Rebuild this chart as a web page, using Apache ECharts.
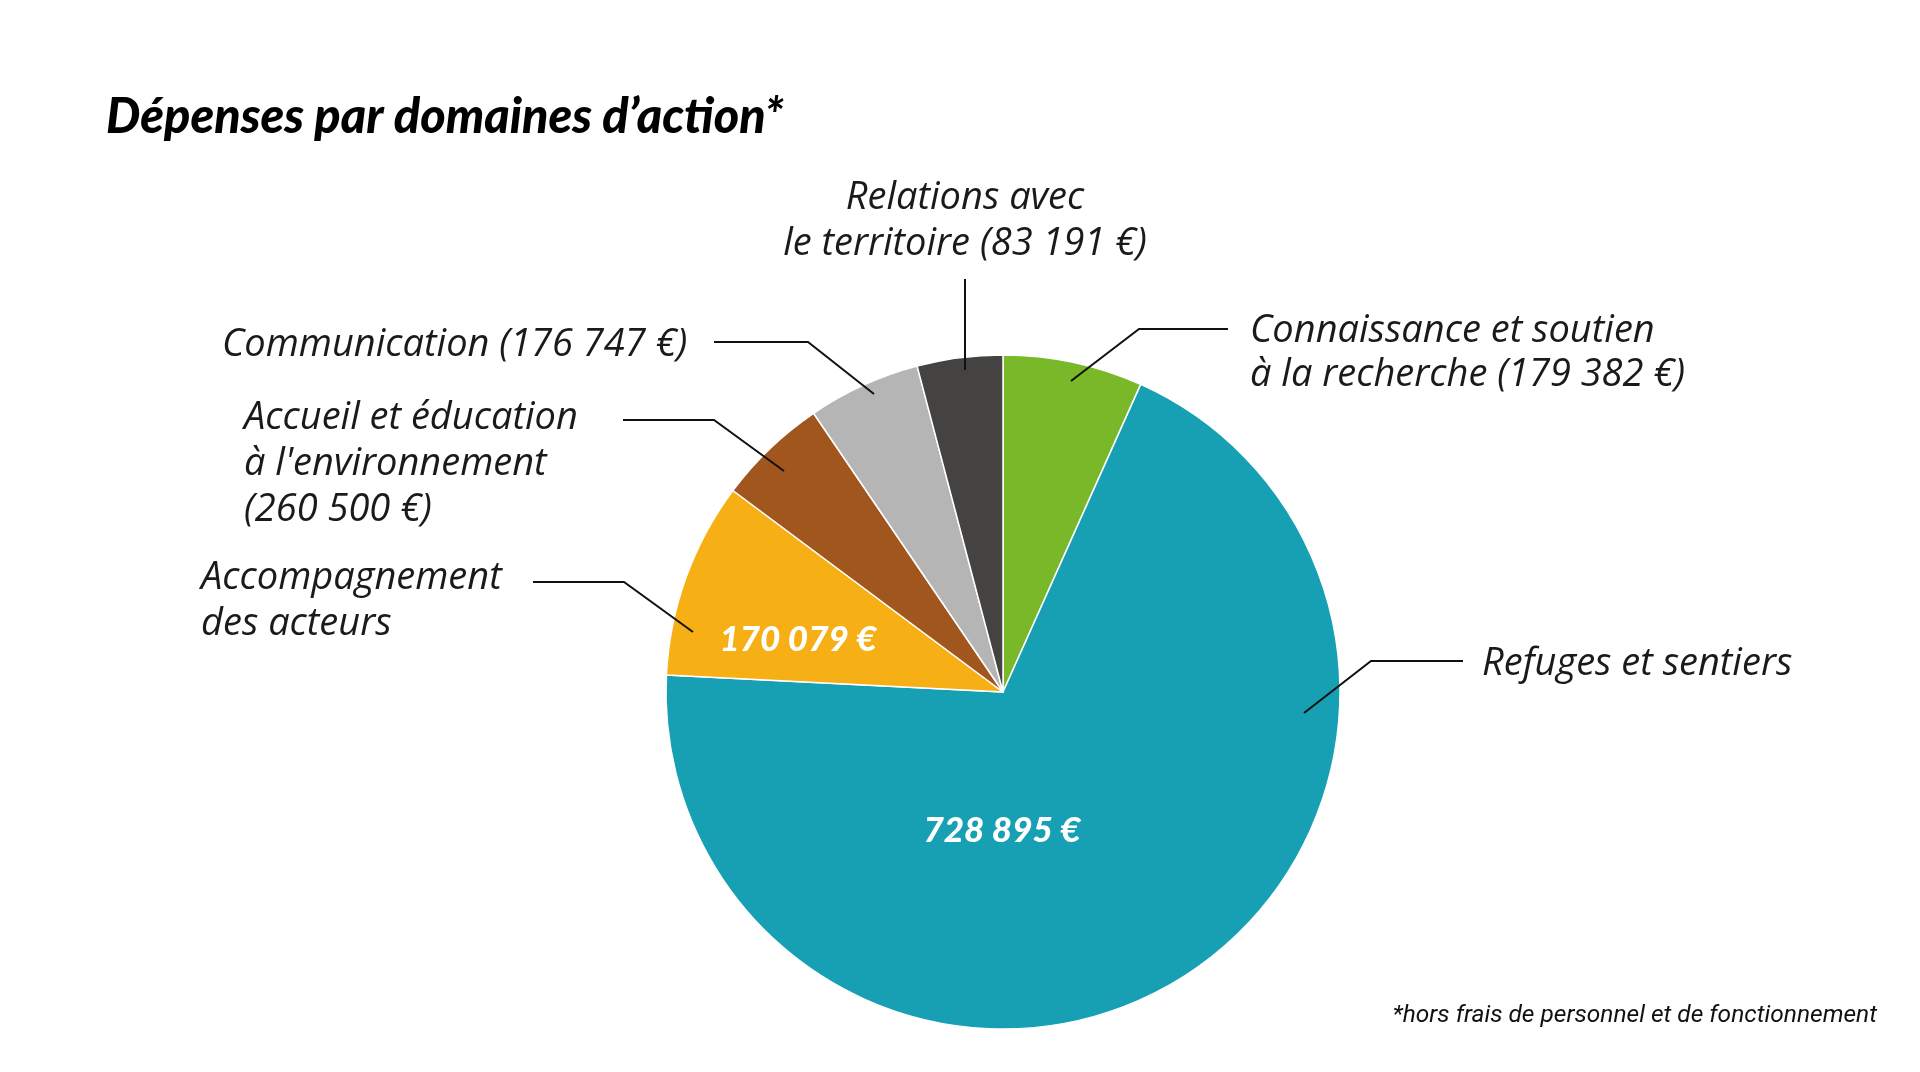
<!DOCTYPE html>
<html>
<head>
<meta charset="utf-8">
<script src="https://cdn.jsdelivr.net/npm/echarts@6/dist/echarts.min.js"></script>
<style>html,body{margin:0;padding:0;background:#fff}#c{width:1920px;height:1072px}</style>
</head>
<body>
<div id="c"></div>
<script>
// Categories, clockwise from 12 o'clock
const categories = [
  'Connaissance et soutien à la recherche',
  'Refuges et sentiers',
  'Accompagnement des acteurs',
  "Accueil et éducation à l'environnement",
  'Communication',
  'Relations avec le territoire'
];
// Amounts printed on the chart (€)
const amounts = [179382, 728895, 170079, 260500, 176747, 83191];
const shares = [6.7, 69.1, 9.4, 5.3, 5.4, 4.1];
const colors = ['#79b829', '#17a0b4', '#f6b015', '#a0561c', '#b5b5b5', '#444342'];

const fmt = v => String(v).replace(/\B(?=(\d{3})+(?!\d))/g, ' ') + ' €';
const outsideLabels = [
  'Connaissance et soutien\nà la recherche (' + fmt(amounts[0]) + ')',
  'Refuges et sentiers',
  'Accompagnement\ndes acteurs',
  'Accueil et éducation\nà l\'environnement\n(' + fmt(amounts[3]) + ')',
  'Communication (' + fmt(amounts[4]) + ')',
  'Relations avec\nle territoire (' + fmt(amounts[5]) + ')'
];
const insideShown = [false, true, true, false, false, false];

// label placement (layout only)
const outLayout = [
  {x: 1250, y: 353, align: 'left', lh: 44, pts: [[1071, 381], [1139, 329], [1228, 329]]},
  {x: 1482, y: 664, align: 'left', lh: 46, pts: [[1304, 713], [1371, 661], [1463, 661]]},
  {x: 201, y: 601, align: 'left', lh: 46, pts: [[693, 632], [624, 582], [533, 582]]},
  {x: 244, y: 464, align: 'left', lh: 46, pts: [[784, 471], [714, 420], [623, 420]]},
  {x: 222, y: 345, align: 'left', lh: 46, pts: [[874, 394], [808, 342], [714, 342]]},
  {x: 965, y: 221, align: 'center', lh: 46, pts: [[965, 370], [965, 325], [965, 279]]}
];
const inLayout = {1: {x: 1002, y: 831}, 2: {x: 798, y: 640}};

const chart = echarts.init(document.getElementById('c'), null, {renderer: 'canvas'});
const center = [1003, 692];
const radius = 337;

chart.setOption({
  animation: false,
  backgroundColor: '#fff',
  title: [
    {text: 'Dépenses par domaines d’action*', left: 106, top: 93, padding: 0,
     textStyle: {fontFamily: 'Lato', fontStyle: 'italic', fontWeight: 900, fontSize: 48.5, color: '#000'}},
    {text: '*hors frais de personnel et de fonctionnement', right: 43, top: 1003, padding: 0,
     textStyle: {fontFamily: 'Roboto', fontStyle: 'italic', fontWeight: 400, fontSize: 24.5, color: '#111'}}
  ],
  series: [
    {
      type: 'pie', center: center, radius: radius, startAngle: 90, clockwise: true,
      silent: true, z: 2,
      data: categories.map((c, i) => ({name: c, value: shares[i], itemStyle: {color: colors[i]}})),
      itemStyle: {borderColor: '#fff', borderWidth: 1.5},
      label: {show: false},
      labelLine: {show: false}
    },
    {
      type: 'pie', center: center, radius: radius, startAngle: 90, clockwise: true,
      silent: true, avoidLabelOverlap: false, z: 6,
      data: categories.map((c, i) => ({name: c, value: shares[i],
        itemStyle: {color: 'rgba(0,0,0,0)', borderWidth: 0},
        label: {lineHeight: outLayout[i].lh}})),
      label: {show: true, position: 'outside', formatter: p => outsideLabels[p.dataIndex],
        fontFamily: 'Open Sans', fontStyle: 'italic', fontWeight: 400, fontSize: 38, color: '#1a1a1a'},
      labelLine: {show: true, smooth: false, length: 30, length2: 60, lineStyle: {color: '#111', width: 2}},
      labelLayout: p => {
        const l = outLayout[p.dataIndex];
        return {x: l.x, y: l.y, align: l.align, verticalAlign: 'middle', labelLinePoints: l.pts};
      }
    },
    {
      type: 'pie', center: center, radius: radius, startAngle: 90, clockwise: true,
      silent: true, avoidLabelOverlap: false, z: 7,
      data: categories.map((c, i) => ({name: c, value: shares[i], itemStyle: {color: 'rgba(0,0,0,0)', borderWidth: 0}})),
      label: {
        show: true, position: 'inside',
        formatter: p => insideShown[p.dataIndex] ? fmt(amounts[p.dataIndex]) : '',
        fontFamily: 'Lato', fontStyle: 'italic', fontWeight: 900, fontSize: 35, color: '#fff'
      },
      labelLine: {show: false},
      labelLayout: p => {
        const l = inLayout[p.dataIndex];
        return l ? {x: l.x, y: l.y, align: 'center', verticalAlign: 'middle'} : {};
      }
    }
  ]
});
</script>
</body>
</html>
